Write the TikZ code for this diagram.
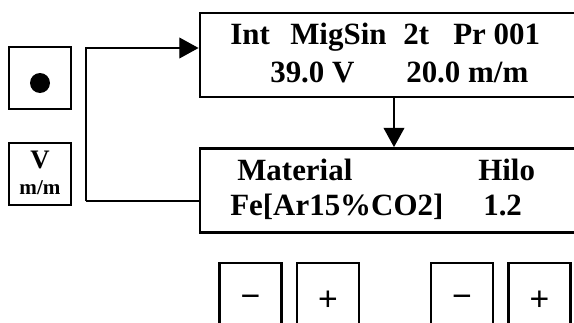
\documentclass[tikz,border=0pt]{standalone}
\usepackage{fontspec}
\setmainfont{Liberation Serif}
\newfontfamily\keyfont{Liberation Sans}
\usepackage{tikz}
\usetikzlibrary{arrows.meta,calc}

\begin{document}
\begin{tikzpicture}[
    x=0.025cm, y=-0.025cm,
    panel/.style={rectangle, draw, line width=2pt, minimum width=10cm, minimum height=2.1cm, inner sep=0},
    keybox/.style={rectangle, draw, line width=2pt, minimum width=1.55cm, minimum height=1.55cm, inner sep=0},
    pmkey/.style={rectangle, draw, line width=1.8pt, minimum width=1.55cm, minimum height=1.9cm, inner sep=0, font=\keyfont\fontsize{24}{26}\selectfont},
    txt/.style={anchor=base west, inner sep=0, font=\fontsize{22}{26}\selectfont\bfseries},
    conn/.style={line width=0.9pt},
    arrow/.style={conn, -{Triangle[length=4.8mm, width=5.2mm]}}
]
    \useasboundingbox (0,0) rectangle (574,323);
    \clip (0,0) rectangle (574,323);

    % keys on the left
    \node[keybox] (kdot) at (40,78) {};
    \fill (40,83) circle (10);
    \node[keybox] (kvm) at (40,174) {};
    \node[anchor=base, inner sep=0, font=\fontsize{19}{21}\selectfont\bfseries] (kv) at (40,168) {V};
    \node[anchor=base, inner sep=0, font=\fontsize{15}{17}\selectfont\bfseries] (km) at (40,194) {m/m};

    % display screens
    \node[panel] (scr1) at (400,55) {};
    \node[panel] (scr2) at (400,190.5) {};

    \node[txt] (s1a) at (230,44) {Int};
    \node[txt] (s1b) at (290,44) {MigSin};
    \node[txt] (s1c) at (403,44) {2t};
    \node[txt] (s1d) at (453,44) {Pr 001};
    \node[txt] (s1e) at (270,82) {39.0 V};
    \node[txt] (s1f) at (406,82) {20.0 m/m};

    \node[txt] (s2a) at (237,180) {Material};
    \node[txt] (s2b) at (478,180) {Hilo};
    \node[txt] (s2c) at (230,215) {Fe[Ar15\%CO2]};
    \node[txt] (s2d) at (483,215) {1.2};

    % plus / minus keys
    \node[pmkey] (m1) at (250.5,301) {−};
    \node[pmkey] (p1) at (328,301) {+};
    \node[pmkey] (m2) at (462,301) {−};
    \node[pmkey] (p2) at (539.5,301) {+};

    % connectors
    \coordinate (jlow) at (86,201);
    \coordinate (jtop) at (86,48);
    \coordinate (adown) at (394,0);
    \draw[conn] (jlow) -- (jlow -| scr2.west);
    \draw[arrow] (jlow) -- (jtop) -- (jtop -| scr1.west);
    \draw[arrow] (adown |- scr1.south) -- (adown |- scr2.north);
\end{tikzpicture}
\end{document}
